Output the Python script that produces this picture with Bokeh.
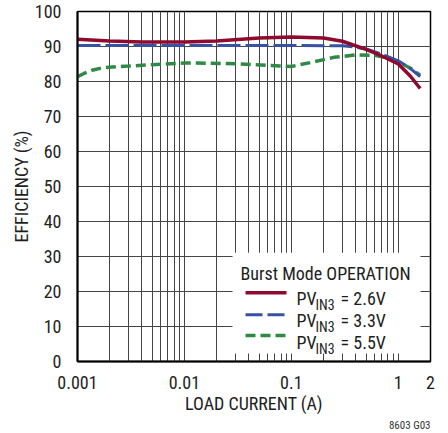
import math
from bokeh.plotting import figure
from bokeh.models import (Range1d, FixedTicker, CustomJSTickFormatter, Label, Title)
from bokeh.embed import file_html
from bokeh.resources import INLINE

# ---------------- data ----------------
x_26 = [0.001, 0.002, 0.004, 0.01, 0.02, 0.05, 0.1, 0.2, 0.3, 0.5, 0.7, 1.0, 1.3, 1.6]
y_26 = [92.1, 91.6, 91.3, 91.3, 91.6, 92.4, 92.7, 92.4, 91.5, 89.2, 87.3, 85.0, 81.5, 78.0]

x_33 = [0.001, 0.003, 0.01, 0.03, 0.1, 0.3, 0.4, 0.5, 0.7, 1.0, 1.3, 1.6]
y_33 = [90.3, 90.3, 90.3, 90.3, 90.3, 90.2, 89.8, 89.3, 87.8, 85.9, 83.7, 81.4]

x_55 = [0.001, 0.00115, 0.0014, 0.0017, 0.0023, 0.003, 0.005, 0.01, 0.03, 0.06, 0.1,
        0.15, 0.25, 0.4, 0.6, 0.8, 1.0, 1.3, 1.6]
y_55 = [81.4, 82.3, 83.3, 83.9, 84.2, 84.4, 84.8, 85.3, 85.1, 84.6, 84.3,
        85.4, 86.9, 87.6, 87.5, 86.7, 85.6, 83.8, 81.8]

x_ticks = [0.001, 0.01, 0.1, 1, 2]
y_ticks = list(range(0, 101, 10))
legend_labels = ["= 2.6V", "= 3.3V", "= 5.5V"]
legend_title = "Burst Mode OPERATION"
footnote = "8603 G03"

# ---------------- layout helpers ----------------
FONT = "'Roboto Condensed', 'Liberation Sans Narrow', 'DejaVu Sans Condensed', Roboto, sans-serif"
TXT = "#1e1e1e"
W, H = 446, 431
FL, FR, FT, FB = 77, 430, 11, 362   # frame edges in page pixels
XMIN, XMAX, YMIN, YMAX = 0.001, 2.0, 0.0, 100.0

def px2x(px):
    lo, hi = math.log10(XMIN), math.log10(XMAX)
    return 10 ** (lo + (px - FL) / (FR - FL) * (hi - lo))

def px2y(py):
    return YMIN + (FB - py) / (FB - FT) * (YMAX - YMIN)

p = figure(width=W, height=H, x_axis_type="log",
           x_range=Range1d(XMIN, XMAX), y_range=Range1d(YMIN, YMAX),
           output_backend="svg", toolbar_location=None,
           min_border_left=FL, min_border_right=W - FR,
           min_border_top=FT, min_border_bottom=H - FB)
p.background_fill_color = "white"
p.border_fill_color = "white"
p.outline_line_color = "black"
p.outline_line_width = 1.5

# grids
grid_x = []
for k in (-3, -2, -1):
    for m in range(1, 10):
        grid_x.append(m * 10 ** k)
grid_x += [1, 2]
p.xgrid.ticker = FixedTicker(ticks=grid_x)
p.ygrid.ticker = FixedTicker(ticks=y_ticks)
for g in (p.xgrid, p.ygrid):
    g.grid_line_color = "#454545"
    g.grid_line_width = 1

# axes
p.xaxis.ticker = FixedTicker(ticks=x_ticks)
p.xaxis.formatter = CustomJSTickFormatter(code="return String(tick)")
p.yaxis.ticker = FixedTicker(ticks=y_ticks)
for ax in (p.xaxis, p.yaxis):
    ax.major_tick_line_color = None
    ax.minor_tick_line_color = None
    ax.axis_line_color = "black"
    ax.axis_line_width = 2
    ax.major_label_text_font = FONT
    ax.major_label_text_font_size = "18px"
    ax.major_label_text_color = TXT
    ax.axis_label_text_font = FONT
    ax.axis_label_text_font_size = "18px"
    ax.axis_label_text_font_style = "normal"
    ax.axis_label_text_color = TXT
p.xaxis.axis_label = "LOAD CURRENT (A)"
p.yaxis.axis_label = "EFFICIENCY (%)"
p.xaxis.major_label_standoff = 8
p.yaxis.major_label_standoff = 10
p.xaxis.axis_label_standoff = 1
p.yaxis.axis_label_standoff = 0

# footnote below the x axis title
p.add_layout(Title(text=footnote, align="right", text_font=FONT,
                   text_font_size="11px", text_font_style="normal",
                   text_color="#333333", standoff=0, offset=0), "below")

# curves
RED, BLUE, GREEN = "#8e0b2f", "#3752a3", "#2f8a46"
DASH_BLUE, DASH_GREEN = "23 5", "10 5"
p.line(x_55, y_55, line_color=GREEN, line_width=3.5, line_dash=DASH_GREEN)
p.line(x_33, y_33, line_color=BLUE, line_width=3, line_dash=DASH_BLUE)
p.line(x_26, y_26, line_color=RED, line_width=3.5)

# legend box (white, covers grid)
p.quad(left=[px2x(232)], right=[px2x(420)], top=[px2y(253)], bottom=[px2y(354)],
       fill_color="white", line_color=None)
p.add_layout(Label(x=px2x(240), y=px2y(274), text=legend_title,
                   text_font=FONT, text_font_size="18px", text_color=TXT,
                   text_baseline="alphabetic"))
rows = [(RED, None, 293, 299, 3.5), (BLUE, "17 5", 315, 321, 3), (GREEN, "10 5", 336, 343, 3.5)]
for (col, dash, ly, by, lw), lab in zip(rows, legend_labels):
    kw = dict(line_color=col, line_width=lw)
    if dash:
        kw["line_dash"] = dash
    p.line([px2x(245), px2x(286)], [px2y(ly), px2y(ly)], **kw)
    p.add_layout(Label(x=px2x(296), y=px2y(by), text="PV", text_font=FONT,
                       text_font_size="18px", text_color=TXT, text_baseline="alphabetic"))
    p.add_layout(Label(x=px2x(315), y=px2y(by + 6), text="IN3", text_font=FONT,
                       text_font_size="14px", text_color=TXT, text_baseline="alphabetic"))
    p.add_layout(Label(x=px2x(340), y=px2y(by), text=lab, text_font=FONT,
                       text_font_size="18px", text_color=TXT, text_baseline="alphabetic"))

open("out.html", "w").write(file_html(p, INLINE))
